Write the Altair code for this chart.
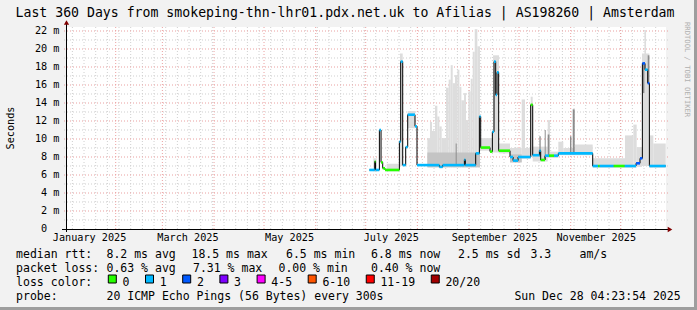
import altair as alt
import pandas as pd

# ---------------- text ----------------
TITLE = "Last 360 Days from smokeping-thn-lhr01.pdx.net.uk to Afilias | AS198260 | Amsterdam"
Y_TITLE = "Seconds"
WATERMARK = "RRDTOOL / TOBI OETIKER"
START = "2025-01-02 04:23:54"
END = "2025-12-28 04:23:54"

# ---------------- axes ----------------
y_ticks = [0, 2, 4, 6, 8, 10, 12, 14, 16, 18, 20, 22]
y_minor = [1, 3, 5, 7, 9, 11, 13, 15, 17, 19, 21]
month_starts = ["2025-02-01", "2025-03-01", "2025-04-01", "2025-05-01", "2025-06-01",
                "2025-07-01", "2025-08-01", "2025-09-01", "2025-10-01", "2025-11-01",
                "2025-12-01"]
month_labels = ["January 2025", "March 2025", "May 2025", "July 2025",
                "September 2025", "November 2025"]
month_label_at = ["2025-01-16 08:00", "2025-03-16 08:00", "2025-05-16 08:00",
                  "2025-07-16 08:00", "2025-09-16 08:00", "2025-11-16 08:00"]

# ---------------- median rtt (ms), step segments ----------------
med_start = ["2025-07-03 05:00", "2025-07-06 10:00", "2025-07-06 22:00", "2025-07-09 05:00",
             "2025-07-10 05:00", "2025-07-11 05:00", "2025-07-12 14:00", "2025-07-21 05:00",
             "2025-07-22 00:00", "2025-07-23 05:00", "2025-07-25 00:00", "2025-07-26 05:00",
             "2025-07-30 14:00", "2025-07-31 19:00", "2025-08-14 05:00", "2025-08-16 05:00",
             "2025-08-29 05:00", "2025-08-29 19:00", "2025-09-05 00:00", "2025-09-07 05:00",
             "2025-09-08 00:00", "2025-09-13 14:00", "2025-09-15 00:00", "2025-09-16 00:00",
             "2025-09-17 00:00", "2025-09-17 19:00", "2025-09-18 19:00", "2025-09-25 14:00",
             "2025-09-27 10:00", "2025-09-30 10:00", "2025-10-08 00:00", "2025-10-09 05:00",
             "2025-10-13 05:00", "2025-10-14 00:00", "2025-10-16 14:00", "2025-10-19 00:00",
             "2025-10-22 00:00", "2025-10-24 14:00", "2025-11-14 05:00", "2025-11-17 10:00",
             "2025-11-18 10:00", "2025-11-26 19:00", "2025-12-03 10:00", "2025-12-10 05:00",
             "2025-12-12 14:00", "2025-12-14 00:00", "2025-12-15 14:00", "2025-12-17 05:00",
             "2025-12-18 05:00"]
med_value = [6.56, 7.5, 6.56, 11.0, 7.4, 6.75, 6.56, 9.7,
             18.6, 7.1, 9.1, 12.7, 11.4, 7.1, 6.9, 7.1,
             7.7, 7.1, 8.4, 12.5, 9.05, 8.6, 10.8, 18.6,
             14.9, 17.4, 8.7, 8.0, 7.6, 8.0, 13.8, 8.2,
             8.7, 7.67, 8.15, 8.15, 8.15, 8.4, 7.0, 7.0,
             7.0, 7.0, 7.0, 7.3, 7.85, 18.4, 17.7, 16.2,
             7.0]
med_loss = ["1", "0", "1", "1", "0", "0", "0", "1",
            "1", "1", "1", "1", "1", "1", "1", "1",
            "1", "1", "1", "1", "0", "0", "1", "1",
            "1", "1", "0", "1", "1", "1", "0", "1",
            "1", "0", "1", "0", "1", "1", "1", "0",
            "1", "0", "1", "2", "2", "2", "1", "2",
            "1"]
med_last = "2025-12-28 00:00"

# ---------------- smoke (ping spread, ms) ----------------
smoke_start = ["2025-07-05 14:00", "2025-07-13 14:00", "2025-07-21 14:00", "2025-07-26 05:00",
               "2025-08-07 00:00", "2025-08-08 14:00", "2025-08-09 19:00", "2025-08-11 14:00",
               "2025-08-13 00:00", "2025-08-14 05:00", "2025-08-15 14:00", "2025-08-18 05:00",
               "2025-08-19 19:00", "2025-08-21 00:00", "2025-08-22 05:00", "2025-08-23 14:00",
               "2025-08-25 00:00", "2025-08-26 05:00", "2025-08-27 10:00", "2025-08-29 00:00",
               "2025-08-30 05:00", "2025-08-31 14:00", "2025-09-02 00:00", "2025-09-03 05:00",
               "2025-09-04 10:00", "2025-09-06 00:00", "2025-09-07 14:00", "2025-09-13 14:00",
               "2025-09-15 10:00", "2025-09-19 00:00", "2025-09-25 14:00", "2025-10-02 14:00",
               "2025-10-04 14:00", "2025-10-08 00:00", "2025-10-09 05:00", "2025-10-18 05:00",
               "2025-10-19 14:00", "2025-10-24 14:00", "2025-10-27 14:00", "2025-11-03 14:00",
               "2025-11-14 05:00", "2025-12-03 14:00", "2025-12-08 14:00", "2025-12-10 14:00",
               "2025-12-13 19:00", "2025-12-15 05:00", "2025-12-18 05:00", "2025-12-20 14:00"]
smoke_end = ["2025-07-07 14:00", "2025-07-21 05:00", "2025-07-23 05:00", "2025-07-30 14:00",
             "2025-08-08 14:00", "2025-08-09 19:00", "2025-08-11 14:00", "2025-08-13 00:00",
             "2025-08-14 05:00", "2025-08-15 14:00", "2025-08-18 05:00", "2025-08-19 19:00",
             "2025-08-21 00:00", "2025-08-22 05:00", "2025-08-23 14:00", "2025-08-25 00:00",
             "2025-08-26 05:00", "2025-08-27 10:00", "2025-08-29 00:00", "2025-08-30 05:00",
             "2025-08-31 14:00", "2025-09-02 00:00", "2025-09-03 05:00", "2025-09-04 10:00",
             "2025-09-06 00:00", "2025-09-07 14:00", "2025-09-13 14:00", "2025-09-15 10:00",
             "2025-09-19 00:00", "2025-09-25 14:00", "2025-10-02 14:00", "2025-10-04 14:00",
             "2025-10-08 00:00", "2025-10-09 05:00", "2025-10-18 05:00", "2025-10-19 14:00",
             "2025-10-24 14:00", "2025-10-27 14:00", "2025-11-03 14:00", "2025-11-14 05:00",
             "2025-12-03 14:00", "2025-12-08 14:00", "2025-12-10 14:00", "2025-12-13 19:00",
             "2025-12-18 05:00", "2025-12-16 05:00", "2025-12-20 14:00", "2025-12-28 00:00"]
smoke_low = [6.4, 6.4, 7.0, 11.2,
             6.8, 6.8, 6.8, 6.8, 6.8, 6.8, 6.8, 6.8, 6.8, 6.8, 6.8, 6.8,
             6.8, 6.8, 6.8, 6.8, 6.8, 6.8, 6.8, 6.8, 6.8, 6.8,
             8.7, 8.5, 8.5, 8.4, 7.4, 7.8, 7.8, 8.0, 7.5, 7.9, 7.9, 8.2, 8.2, 8.2,
             6.8, 6.8, 6.8, 6.9, 7.0, 7.0, 6.8, 6.8]
smoke_high = [7.85, 7.25, 19.5, 13.1,
              10.1, 11.9, 10.9, 13.7, 12.5, 11.4, 10.1, 15.7, 16.6, 18.2, 16.2, 17.1,
              17.7, 15.8, 14.3, 15.1, 12.1, 15.3, 16.7, 19.7, 22.2, 20.3,
              10.1, 10.1, 19.3, 9.5, 9.0, 14.4, 9.0, 14.7, 9.15, 12.1, 8.6, 9.7, 9.0, 9.4,
              7.85, 10.4, 11.6, 9.1, 19.5, 22.1, 10.4, 9.5]

mid_start = ["2025-08-07 00:00", "2025-09-25 14:00"]
mid_end = ["2025-09-07 14:00", "2025-10-02 14:00"]
mid_low = [6.9, 7.4]
mid_high = [8.5, 8.3]

dark_start = ["2025-08-24 00:00", "2025-10-13 05:00", "2025-10-16 10:00", "2025-10-18 05:00",
              "2025-10-31 14:00", "2025-11-02 05:00", "2025-12-14 05:00", "2025-12-17 05:00"]
dark_end = ["2025-08-24 14:00", "2025-10-14 00:00", "2025-10-17 00:00", "2025-10-19 05:00",
            "2025-11-01 10:00", "2025-11-03 10:00", "2025-12-15 05:00", "2025-12-18 05:00"]
dark_low = [7.1, 8.0, 7.7, 8.0, 8.3, 8.3, 15.1, 16.2]
dark_high = [9.5, 10.3, 11.0, 10.5, 10.3, 13.3, 18.4, 19.3]

# ---------------- legend ----------------
loss_names = ["0", "1", "2", "3", "4-5", "6-10", "11-19", "20/20"]
loss_colors = ["#26ff00", "#00b8ff", "#0059ff", "#7e00ff", "#ff00ff", "#ff5500", "#ff0000", "#a10000"]
stats_rtt = ["median rtt:", "8.2 ms avg", "18.5 ms max", "6.5 ms min", "6.8 ms now",
             "2.5 ms sd", "3.3", "am/s"]
stats_loss = ["packet loss:", "0.63 % avg", "7.31 % max", "0.00 % min", "0.40 % now"]
probe_text = ["probe:", "20 ICMP Echo Pings (56 Bytes) every 300s"]
stamp = "Sun Dec 28 04:23:54 2025"

# ---------------- layout (pixels) ----------------
W, H = 600, 202
PAD_L, PAD_T = 66, 27
MONO = "DejaVu Sans Mono"
rtt_x = [16.1, 106.5, 191.5, 286.0, 371.0, 458.0, 530.5, 579.5]
loss_x = [16.1, 106.5, 193.0, 278.5, 371.0]
probe_x = [16.1, 106.5]
line_y = [258, 272, 286, 300]
CH = 6.95          # legend character advance
CH_AX = 6.14       # axis-label character advance
NBSP = "\u00a0"


def doy(s):
    return (pd.Timestamp(s) - pd.Timestamp("2025-01-01")) / pd.Timedelta(days=1)


XD = [doy(START), doy(END)]
YD = [0, H / 9.0]
xs = alt.Scale(domain=XD, range=[0, W])
ys = alt.Scale(domain=YD, range=[H, 0])
NOAX = None

# ---- data frames ----
seg = pd.DataFrame({
    "d0": [doy(s) for s in med_start],
    "d1": [doy(s) for s in med_start[1:] + [med_last]],
    "v": med_value,
    "loss": med_loss,
})
line_df = pd.DataFrame({
    "d": [doy(s) for s in med_start] + [doy(med_last)],
    "v": med_value + [med_value[-1]],
})
smoke = pd.DataFrame({"d0": [doy(s) for s in smoke_start], "d1": [doy(s) for s in smoke_end],
                      "lo": smoke_low, "hi": smoke_high})
mid = pd.DataFrame({"d0": [doy(s) for s in mid_start], "d1": [doy(s) for s in mid_end],
                    "lo": mid_low, "hi": mid_high})
dark = pd.DataFrame({"d0": [doy(s) for s in dark_start], "d1": [doy(s) for s in dark_end],
                     "lo": dark_low, "hi": dark_high})


def rects(df, color):
    return alt.Chart(df).mark_rect(color=color).encode(
        x=alt.X("d0:Q", scale=xs, axis=NOAX), x2="d1:Q",
        y=alt.Y("lo:Q", scale=ys, axis=NOAX), y2="hi:Q")


# grid
ymaj = pd.DataFrame({"v": y_ticks[1:]})
ymin = pd.DataFrame({"v": y_minor})
weeks = pd.DataFrame({"d": [doy(s) for s in pd.date_range("2025-01-06", "2025-12-22", freq="7D").astype(str)]})
months = pd.DataFrame({"d": [doy(s) for s in month_starts]})

GRAY = "#cfcfcf"
RED = "#eaa0a0"
grid_layers = [
    alt.Chart(ymin).mark_rule(color=GRAY, strokeDash=[1, 2], strokeWidth=1).encode(
        y=alt.Y("v:Q", scale=ys, axis=NOAX), x=alt.value(-2), x2=alt.value(W + 2)),
    alt.Chart(weeks).mark_rule(color=GRAY, strokeDash=[1, 2], strokeWidth=1).encode(
        x=alt.X("d:Q", scale=xs, axis=NOAX), y=alt.value(0), y2=alt.value(H + 2)),
    alt.Chart(ymaj).mark_rule(color=RED, strokeDash=[1, 2], strokeWidth=1).encode(
        y=alt.Y("v:Q", scale=ys, axis=NOAX), x=alt.value(-2), x2=alt.value(W + 2)),
    alt.Chart(months).mark_rule(color=RED, strokeDash=[1, 2], strokeWidth=1).encode(
        x=alt.X("d:Q", scale=xs, axis=NOAX), y=alt.value(0), y2=alt.value(H + 2)),
]

data_layers = [
    rects(smoke, "#dddddd"),
    rects(mid, "#c4c4c4"),
    rects(dark, "#8c8c8c"),
    alt.Chart(line_df).mark_line(interpolate="step-after", color="black", strokeWidth=1).encode(
        x=alt.X("d:Q", scale=xs, axis=NOAX), y=alt.Y("v:Q", scale=ys, axis=NOAX)),
    alt.Chart(seg).mark_rule(strokeWidth=2.6).encode(
        x=alt.X("d0:Q", scale=xs, axis=NOAX), x2="d1:Q",
        y=alt.Y("v:Q", scale=ys, axis=NOAX),
        color=alt.Color("loss:N", scale=alt.Scale(domain=loss_names, range=loss_colors), legend=None)),
]

# axes lines + arrows
ARROW = "#800000"
axis_layers = [
    alt.Chart(pd.DataFrame({"a": [0]})).mark_rule(color="black", strokeWidth=1).encode(
        x=alt.value(-4), x2=alt.value(W + 2), y=alt.value(H + 0.5)),
    alt.Chart(pd.DataFrame({"a": [0]})).mark_rule(color="black", strokeWidth=1).encode(
        x=alt.value(0.5), y=alt.value(-3), y2=alt.value(H + 3)),
    alt.Chart(pd.DataFrame({"a": [0]})).mark_point(shape="triangle-right", filled=True, color=ARROW,
                                                   size=28, opacity=1).encode(
        x=alt.value(W + 4), y=alt.value(H + 0.5)),
    alt.Chart(pd.DataFrame({"a": [0]})).mark_point(shape="triangle-up", filled=True, color=ARROW,
                                                   size=28, opacity=1).encode(
        x=alt.value(0.5), y=alt.value(-4.5)),
]

# tick labels ("0" sits in the digit column, its unit column is blank)
ylab = pd.DataFrame({"v": y_ticks[1:], "t": [f"{v}{NBSP}m" for v in y_ticks[1:]]})
zlab = pd.DataFrame({"v": [y_ticks[0]], "t": [str(y_ticks[0])]})
mlab = pd.DataFrame({"d": [doy(s) for s in month_label_at], "t": month_labels})
label_layers = [
    alt.Chart(ylab).mark_text(font=MONO, fontSize=10.2, align="right", baseline="middle",
                              color="black").encode(
        y=alt.Y("v:Q", scale=ys, axis=NOAX), x=alt.value(-6.5), text="t:N"),
    alt.Chart(zlab).mark_text(font=MONO, fontSize=10.2, align="right", baseline="middle",
                              color="black").encode(
        y=alt.Y("v:Q", scale=ys, axis=NOAX), x=alt.value(-6.5 - 2 * CH_AX), text="t:N"),
    alt.Chart(mlab).mark_text(font=MONO, fontSize=10.2, align="center", baseline="alphabetic",
                              color="black").encode(
        x=alt.X("d:Q", scale=xs, axis=NOAX), y=alt.value(241 - PAD_T), text="t:N"),
]


def pix_text(texts, xs_abs, y_abs, size=11.5, align="left", color="black", angle=0, baseline="alphabetic"):
    df = pd.DataFrame({"t": texts, "px": [x - PAD_L for x in xs_abs], "py": [y_abs - PAD_T] * len(texts)})
    kw = dict(font=MONO, fontSize=size, align=align, baseline=baseline, color=color)
    if angle:
        kw["angle"] = angle
    return alt.Chart(df).mark_text(**kw).encode(
        x=alt.X("px:Q", scale=None, axis=NOAX), y=alt.Y("py:Q", scale=None, axis=NOAX), text="t:N")


# loss colour legend
sq_x = []
cur = 108.3
for name in loss_names:
    sq_x.append(cur)
    cur += 8 + 22.25 + len(name) * CH
sq = pd.DataFrame({"px": [x - PAD_L for x in sq_x], "px2": [x + 8 - PAD_L for x in sq_x],
                   "py": [275 - PAD_T] * 8, "py2": [283 - PAD_T] * 8, "c": loss_names})

text_layers = [
    pix_text([TITLE], [345], 16.5, size=13.2, align="center"),
    pix_text([Y_TITLE], [14], 128, size=10.2, align="center", angle=270),
    pix_text([WATERMARK], [685], 22, size=7.2, color="#b0b0b0", angle=90),
    pix_text(stats_rtt, rtt_x, line_y[0]),
    pix_text(stats_loss, loss_x, line_y[1]),
    pix_text(["loss color:"], [16.1], line_y[2]),
    pix_text(loss_names, [x + 14.2 for x in sq_x], line_y[2]),
    pix_text(probe_text, probe_x, line_y[3]),
    pix_text([stamp], [680.6], line_y[3], align="right"),
    alt.Chart(sq).mark_rect(stroke="black", strokeWidth=1).encode(
        x=alt.X("px:Q", scale=None, axis=NOAX), x2="px2:Q",
        y=alt.Y("py:Q", scale=None, axis=NOAX), y2="py2:Q",
        color=alt.Color("c:N", scale=alt.Scale(domain=loss_names, range=loss_colors), legend=None)),
]

# frame shading (right and bottom)
frame = pd.DataFrame({"px": [697 - 3 - PAD_L, -PAD_L], "px2": [697 - PAD_L, 697 - PAD_L],
                      "py": [-PAD_T, 307 - PAD_T], "py2": [310 - PAD_T, 310 - PAD_T]})
frame_layer = alt.Chart(frame).mark_rect(color="#9e9e9e").encode(
    x=alt.X("px:Q", scale=None, axis=NOAX), x2="px2:Q",
    y=alt.Y("py:Q", scale=None, axis=NOAX), y2="py2:Q")

chart = alt.layer(
    *grid_layers, *data_layers, *axis_layers, *label_layers, *text_layers, frame_layer
).resolve_scale(x="independent", y="independent", color="independent").properties(
    width=W, height=H,
    padding={"left": PAD_L, "top": PAD_T, "right": 697 - PAD_L - W, "bottom": 310 - PAD_T - H},
    autosize=alt.AutoSizeParams(type="none"),
).configure(background="#f2f2f2").configure_view(fill="white", strokeWidth=0)

chart.save("out.html", embed_options={"renderer": "svg", "actions": False})
